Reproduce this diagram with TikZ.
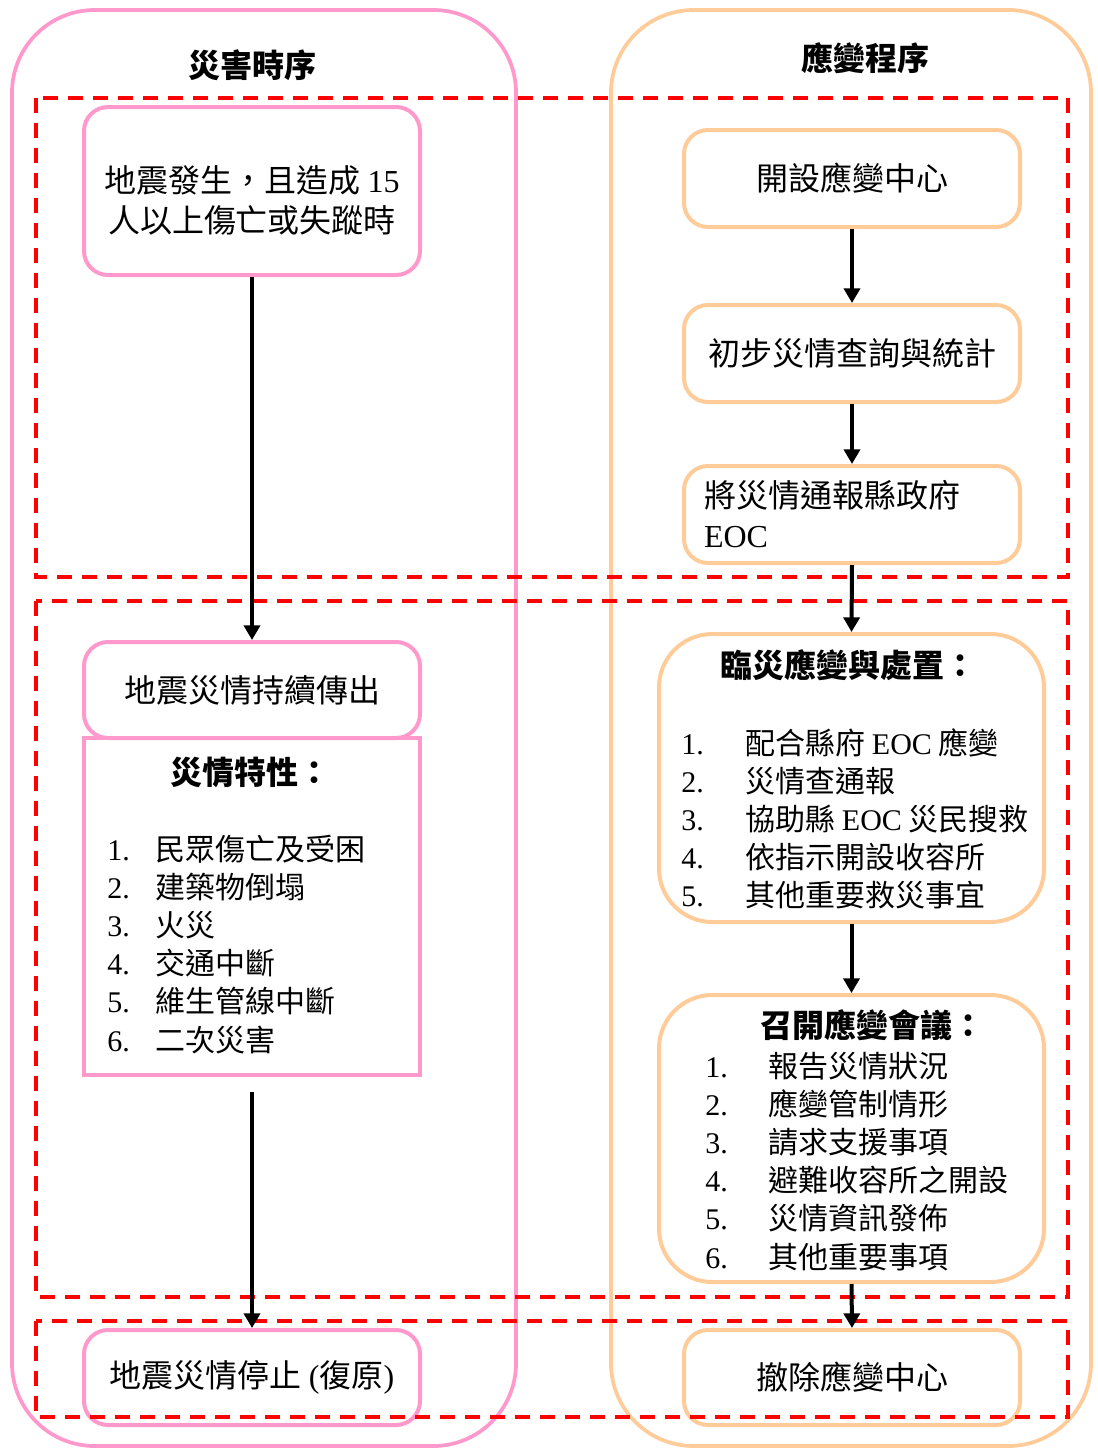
\documentclass[tikz,border=0pt]{standalone}
\usepackage{fontspec}
\setmainfont{Noto Sans CJK TC}
\newfontfamily\tnr{Liberation Serif}
\usetikzlibrary{arrows.meta}
\definecolor{pinkc}{HTML}{FF99CC}
\definecolor{peachc}{HTML}{FFCC99}
\definecolor{redc}{HTML}{FF0000}
\begin{document}
\begin{tikzpicture}[x=0.75pt,y=-0.75pt,
  every node/.style={font=\fontsize{24}{30}\selectfont},
  frame/.style={line width=2.8pt, rounded corners=62pt},
  pbox/.style={draw=pinkc, line width=3pt, rounded corners=18pt, minimum width=252pt, inner sep=0pt, align=center},
  obox/.style={draw=peachc, line width=3pt, rounded corners=18pt, minimum width=252pt, inner sep=0pt, align=center},
  zone/.style={draw=redc, line width=2.8pt, dash pattern=on 11.25pt off 7.5pt},
  flow/.style={line width=3pt, -{Triangle[width=12pt,length=11pt]}},
  ttl/.style={font=\fontsize{24}{30}\selectfont\bfseries},
  item/.style={anchor=base west, inner sep=0pt, font=\fontsize{22.5}{30}\selectfont},
]
\useasboundingbox (0,0) rectangle (1097,1450);
% big frames
\draw[frame, draw=pinkc] (12,10) rectangle (516,1446);
\draw[frame, draw=peachc] (611,10) rectangle (1091,1446);
\node[ttl] (t1) at (252,65) {災害時序};
\node[ttl] (t2) at (865,58) {應變程序};
% left column
\node[pbox, minimum height=126pt] (a) at (252,191) {};
\node[align=center, inner sep=0pt] (at) at (252,200) {地震發生，且造成 {\tnr 15}\\人以上傷亡或失蹤時};
\node[pbox, minimum height=72pt] (b) at (252,690) {地震災情持續傳出};
\node[pbox, sharp corners, minimum height=252.75pt] (c) at (252,906.5) {};
\node[ttl] (ct) at (250,772) {災情特性：};
\foreach \t [count=\i] in {民眾傷亡及受困,建築物倒塌,火災,交通中斷,維生管線中斷,二次災害}{
  \node[item] (cn\i) at (107,{860+38.2*(\i-1)}) {{\tnr \i.}};
  \node[item] (ci\i) at (155,{860+38.2*(\i-1)}) {\t};
}
\node[pbox, minimum height=71.25pt] (d) at (252,1377.5) {地震災情停止 {\tnr(}復原{\tnr)}};
% right column
\node[obox, minimum height=72.75pt] (r1) at (852,178.5) {開設應變中心};
\node[obox, minimum height=72.75pt] (r2) at (852,353.5) {初步災情查詢與統計};
\node[obox, minimum height=72.75pt, text width=222pt, inner xsep=15pt, align=left] (r3) at (852,514.5) {將災情通報縣政府\\{\tnr EOC}};
\node[obox, minimum width=288.75pt, minimum height=216pt, rounded corners=40pt] (r4) at (851.5,778) {};
\node[ttl] (r4t) at (848,665) {臨災應變與處置：};
\foreach \t [count=\i] in {{配合縣府 {\tnr EOC} 應變},災情查通報,{協助縣 {\tnr EOC} 災民搜救},依指示開設收容所,其他重要救災事宜}{
  \node[item] (rn\i) at (681,{754+38.2*(\i-1)}) {{\tnr \i.}};
  \node[item] (ri\i) at (745,{754+38.2*(\i-1)}) {\t};
}
\node[obox, minimum width=288.75pt, minimum height=215.25pt, rounded corners=40pt] (r5) at (851.5,1138.5) {};
\node[ttl] (r5t) at (872,1025) {召開應變會議：};
\foreach \t [count=\i] in {報告災情狀況,應變管制情形,請求支援事項,避難收容所之開設,災情資訊發佈,其他重要事項}{
  \node[item] (sn\i) at (705,{1077+38.2*(\i-1)}) {{\tnr \i.}};
  \node[item] (si\i) at (768,{1077+38.2*(\i-1)}) {\t};
}
\node[obox, minimum height=71.25pt] (r6) at (852,1377.5) {撤除應變中心};
% zones
\draw[zone] (36,98) rectangle (1068,577);
\draw[zone] (36,601) rectangle (1068,1297);
\draw[zone] (36,1321) rectangle (1068,1417);
% connectors
\coordinate (cgap) at (252,1092);
\draw[flow] (a.south) -- (b.north);
\draw[flow] (cgap) -- (d.north);
\draw[flow] (r1.south) -- (r2.north);
\draw[flow] (r2.south) -- (r3.north);
\draw[flow] (r3.south) -- (r4.north);
\draw[flow] (r4.south) -- (r5.north);
\draw[flow] (r5.south) -- (r6.north);
\end{tikzpicture}
\end{document}
